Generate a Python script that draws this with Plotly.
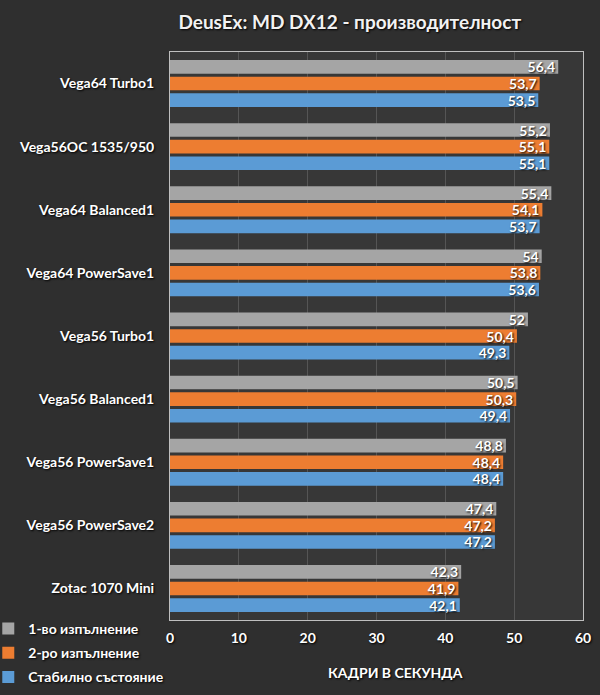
import plotly.graph_objects as go

categories = ['Vega64 Turbo1', 'Vega56OC 1535/950', 'Vega64 Balanced1', 'Vega64 PowerSave1',
              'Vega56 Turbo1', 'Vega56 Balanced1', 'Vega56 PowerSave1', 'Vega56 PowerSave2',
              'Zotac 1070 Mini']
run1 = [56.4, 55.2, 55.4, 54, 52, 50.5, 48.8, 47.4, 42.3]
run2 = [53.7, 55.1, 54.1, 53.8, 50.4, 50.3, 48.4, 47.2, 41.9]
steady = [53.5, 55.1, 53.7, 53.6, 49.3, 49.4, 48.4, 47.2, 42.1]
series_names = ['1-во изпълнение', '2-ро изпълнение', 'Стабилно състояние']
x_ticks = [0, 10, 20, 30, 40, 50, 60]

colors = ['#a5a5a5', '#ed7d31', '#5b9bd5']
FONT = 'Lato'
shadow = '1px 1px 2px #000000'


def fmt(v):
    return f'{v:g}'.replace('.', ',')


fig = go.Figure()
for i, (name, vals) in enumerate(zip(series_names, [run1, run2, steady])):
    fig.add_trace(go.Bar(
        y=categories, x=vals, name=name, orientation='h',
        marker=dict(color=colors[i], line=dict(width=0)),
        text=[fmt(v) for v in vals], textposition='inside', textangle=0,
        insidetextanchor='end', constraintext='none',
        textfont=dict(family=FONT, size=14, color='white', weight='bold', shadow=shadow),
        legendgroup=str(i),
    ))

fig.update_layout(
    width=600, height=695,
    margin=dict(l=170, r=17, t=52, b=75, autoexpand=False),
    paper_bgcolor='#2f2f2f', plot_bgcolor='#373737',
    barmode='group', bargap=0.21, bargroupgap=0.18,
    title=dict(text='DeusEx: MD DX12 - производителност', x=0.583, xanchor='center',
               y=0.968, yanchor='middle',
               font=dict(family=FONT, size=19, color='#f2f2f2', weight='bold', shadow=shadow)),
    font=dict(family=FONT, color='white'),
    legend=dict(orientation='v', xref='paper', x=-0.44, xanchor='left',
                yref='container', y=0.118, yanchor='top', tracegroupgap=3,
                bgcolor='rgba(0,0,0,0)',
                font=dict(family=FONT, size=14, color='white', weight='bold', shadow=shadow)),
    showlegend=True,
)
fig.update_xaxes(range=[0, 60], tickvals=x_ticks, showgrid=True, gridcolor='#555555',
                 gridwidth=1, zeroline=False, showline=True, linecolor='#bfbfbf',
                 mirror=True, ticks='', ticklabelstandoff=5,
                 tickfont=dict(family=FONT, size=14, color='white', weight='bold', shadow=shadow))
fig.update_yaxes(autorange='reversed', showline=True, linecolor='#bfbfbf', mirror=True,
                 showgrid=False, ticks='', ticklabelstandoff=12,
                 tickfont=dict(family=FONT, size=14, color='white', weight='bold', shadow=shadow))
fig.add_annotation(text='КАДРИ В СЕКУНДА', xref='paper', yref='paper', x=0.547, y=-0.092,
                   xanchor='center', yanchor='middle', showarrow=False,
                   font=dict(family=FONT, size=14, color='white', weight='bold', shadow=shadow))

fig.write_html('out.html', config={'displayModeBar': False},
               post_script="document.body.style.margin='0';")
